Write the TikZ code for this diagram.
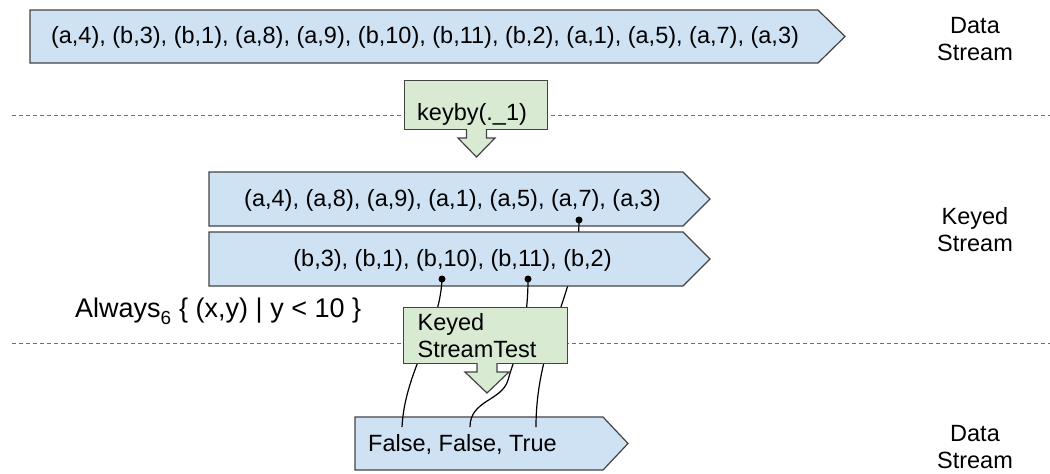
\documentclass[tikz,border=0pt]{standalone}
\usepackage{fontspec}
\setmainfont{Liberation Sans}
\definecolor{streamblue}{HTML}{CFE2F3}
\definecolor{opgreen}{HTML}{D9EAD3}
\definecolor{edgegray}{HTML}{434343}
\definecolor{sepgray}{HTML}{707070}
\begin{document}
\begin{tikzpicture}[x=1pt,y=-1pt,
  streamfill/.style={fill=streamblue, draw=edgegray, line width=1.2pt, line join=miter},
  opfill/.style={fill=opgreen, draw=edgegray, line width=1.2pt, line join=miter},
  opbox/.style={rectangle, fill=opgreen, draw=edgegray, line width=1.2pt},
  txt/.style={font=\fontsize{23.5}{27}\selectfont, inner sep=0pt, text=black},
  wire/.style={draw=black, line width=1.2pt},
  sep/.style={draw=sepgray, line width=1pt, dash pattern=on 4pt off 3pt},
  dot/.style={circle, fill=black, inner sep=0pt, minimum size=7pt}
]
\useasboundingbox (0,0) rectangle (1050,474);

% tap points and targets of the test wires
\coordinate (d7)  at (579,220);
\coordinate (d10) at (442,279);
\coordinate (d11) at (528,279);
\coordinate (f1)  at (402,427);
\coordinate (f2)  at (470,427);
\coordinate (f3)  at (536,427);

% stage separators
\draw[sep] (12,115) -- (1050,115);
\draw[sep] (12,343) -- (1050,343);

% input data stream
\path[streamfill] (30,10) -- (818,10) -- (845,36.5) -- (818,63) -- (30,63) -- cycle;
\node[txt, anchor=base] (instream) at (425,43.5)
  {(a,4), (b,3), (b,1), (a,8), (a,9), (b,10), (b,11), (b,2), (a,1), (a,5), (a,7), (a,3)};
\node[txt, align=center] (lbltop) at (975,39.5) {Data\\Stream};

% keyBy operator
\node[opbox, anchor=north west, minimum width=143pt, minimum height=49pt] (keyby) at (404,80) {};
\node[txt, anchor=base west] (keybytext) at (417,120) {keyby(.\_1)};
\path[opfill] (466.5,129) -- (466.5,138) -- (458,138) -- (476.5,157) -- (495,138) -- (486.5,138) -- (486.5,129);

% output data stream
\path[streamfill] (355,417) -- (603,417) -- (628,443.5) -- (603,470) -- (355,470) -- cycle;
\node[txt, anchor=base west] (outstream) at (368,451) {False, False, True};
\node[txt, align=center] (lblbot) at (975,447) {Data\\Stream};

% keyed stream, key a
\path[streamfill] (209,172) -- (683,172) -- (710,199) -- (683,226) -- (209,226) -- cycle;
\node[txt, anchor=base] (keyeda) at (452.5,206.5) {(a,4), (a,8), (a,9), (a,1), (a,5), (a,7), (a,3)};
\draw[wire] (d7) .. controls (579,290) and (536,340) .. (f3);

% keyed stream, key b
\path[streamfill] (209,232) -- (683,232) -- (710,259) -- (683,286) -- (209,286) -- cycle;
\node[txt, anchor=base] (keyedb) at (452.5,266.5) {(b,3), (b,1), (b,10), (b,11), (b,2)};
\draw[wire] (d10) .. controls (440,330) and (405,370) .. (f1);
\draw[wire] (d11) .. controls (528,330) and (516,352) .. (508,380)
               .. controls (502,401) and (470,400) .. (f2);

\node[txt, align=center] (lblmid) at (975,230) {Keyed\\Stream};
\node[txt, font=\fontsize{27}{31}\selectfont, anchor=base west] (always) at (75,317)
  {Always\raisebox{-3pt}{\textsubscript{6}} \{ (x,y) | y < 10 \}};

% test operator
\node[txt, opbox, anchor=north west, minimum width=164pt, minimum height=56pt,
      text width=136pt, inner xsep=14pt, align=left] (kst) at (403,307) {Keyed\\StreamTest};
\path[opfill] (477,363) -- (477,372) -- (465,372) -- (487,393) -- (509,372) -- (497,372) -- (497,363);

% tap dots
\node[dot] (p7)  at (d7)  {};
\node[dot] (p10) at (d10) {};
\node[dot] (p11) at (d11) {};
\end{tikzpicture}
\end{document}
